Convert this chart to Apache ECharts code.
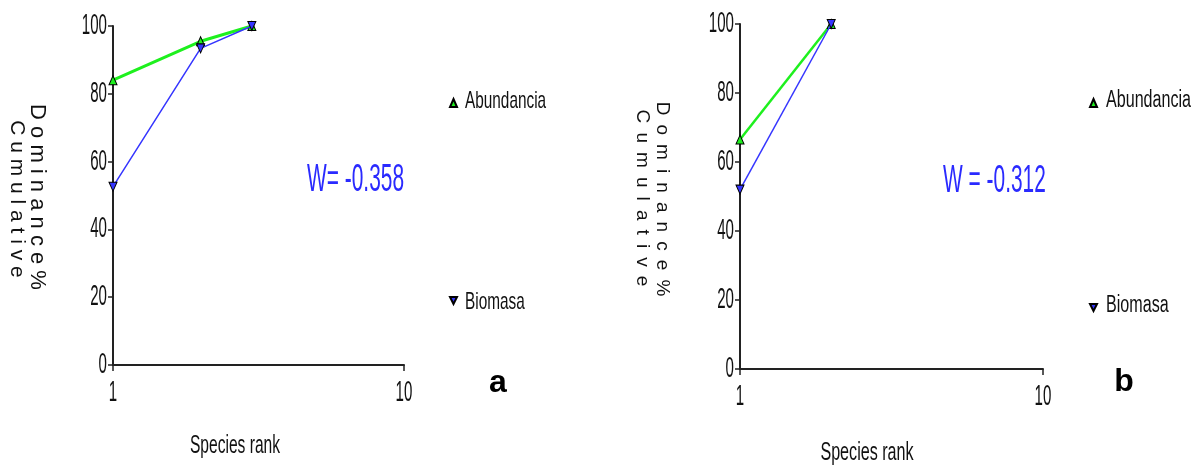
<!DOCTYPE html>
<html>
<head>
<meta charset="utf-8">
<script src="https://cdn.jsdelivr.net/npm/echarts@6/dist/echarts.min.js"></script>
<style>
  html, body { margin: 0; padding: 0; background: #fff; }
  #chart { width: 1201px; height: 470px; }
</style>
</head>
<body>
<div id="chart"></div>
<script>
// Cumulative dominance (ABC) curves, two sites
const rankTicks = [1, 10];
const yTicks = [0, 20, 40, 60, 80, 100];
const seriesNames = ['Abundancia', 'Biomasa'];

// Site a
const ranksA = [1, 2, 3];
const abundanciaA = [84, 95.5, 100];
const biomasaA = [52.6, 93.4, 100];
const wA = 'W= -0.358';

// Site b
const ranksB = [1, 2];
const abundanciaB = [66.5, 100];
const biomasaB = [52, 100];
const wB = 'W = -0.312';

const SANS = '"Liberation Sans", Arial, sans-serif';
const GREEN = '#1ef01e';
const BLUE = '#3535ff';
const INK = '#111';
const DOWN = 'path://M0,0L10,0L5,10Z';

function pairs(xs, ys) { return xs.map((x, i) => [x, ys[i]]); }

const grids = [
  { left: 113, top: 26, width: 291, height: 339 },
  { left: 740, top: 24, width: 303, height: 345 }
];

function xAxis(gi) {
  return {
    type: 'log', logBase: 10, gridIndex: gi,
    min: rankTicks[0], max: rankTicks[rankTicks.length - 1],
    axisLine: { show: true, lineStyle: { color: '#222', width: 2 } },
    axisTick: { show: true, length: 6, lineStyle: { color: '#222', width: 1.5 } },
    axisLabel: { show: false },
    splitLine: { show: false }, minorTick: { show: false }
  };
}
function yAxis(gi) {
  return {
    type: 'value', gridIndex: gi, min: yTicks[0], max: yTicks[yTicks.length - 1], interval: 20,
    axisLine: { show: true, lineStyle: { color: '#222', width: 2 } },
    axisTick: { show: true, length: 5, lineStyle: { color: '#222', width: 1.5 } },
    axisLabel: { show: false },
    splitLine: { show: false }
  };
}
function series(name, gi, xs, ys, color, width, down) {
  return {
    name, type: 'line', xAxisIndex: gi, yAxisIndex: gi,
    data: pairs(xs, ys),
    symbol: down ? DOWN : 'triangle', symbolSize: [8, 9],
    lineStyle: { color, width },
    itemStyle: { color, borderColor: '#000', borderWidth: 1 },
    z: down ? 3 : 2, animation: false
  };
}
function legend(name, left, top, down) {
  return {
    left, top, itemWidth: 7, itemHeight: 8,
    data: [{ name, icon: down ? DOWN : 'triangle' }],
    formatter: () => '',
    selectedMode: false
  };
}

// narrow text: regular sans squeezed horizontally
function narrowText(x, y, text, opt) {
  return {
    type: 'text', x, y, scaleX: opt.scale || 0.56, rotation: opt.rotation || 0,
    style: {
      text, x: 0, y: 0, align: opt.align || 'left', verticalAlign: opt.va || 'middle',
      fontFamily: SANS, fontSize: opt.size, fontWeight: opt.weight || 'normal', fill: opt.color || INK
    }
  };
}

const chart = echarts.init(document.getElementById('chart'), null, { renderer: 'canvas' });
chart.setOption({
  animation: false,
  grid: grids,
  xAxis: [xAxis(0), xAxis(1)],
  yAxis: [yAxis(0), yAxis(1)],
  legend: [
    legend(seriesNames[0], 444, 93, false),
    legend(seriesNames[1], 444, 291, true),
    legend(seriesNames[0], 1084, 93, false),
    legend(seriesNames[1], 1084, 298, true)
  ],
  series: [
    series(seriesNames[0], 0, ranksA, abundanciaA, GREEN, 3, false),
    series(seriesNames[1], 0, ranksA, biomasaA, BLUE, 1.5, true),
    series(seriesNames[0], 1, ranksB, abundanciaB, GREEN, 2.5, false),
    series(seriesNames[1], 1, ranksB, biomasaB, BLUE, 1.5, true)
  ]
});

// tick labels placed through each grid's own scales
const graphics = [];
[0, 1].forEach(gi => {
  yTicks.forEach(v => {
    const p = chart.convertToPixel({ gridIndex: gi }, [rankTicks[0], v]);
    graphics.push(narrowText(p[0] - 6, p[1], String(v), { size: 29, scale: 0.52, align: 'right' }));
  });
  rankTicks.forEach(r => {
    const p = chart.convertToPixel({ gridIndex: gi }, [r, 0]);
    graphics.push(narrowText(p[0], p[1] + 13, String(r), { size: 29, scale: 0.52, align: 'center', va: 'top' }));
  });
});

// axis titles
const yTitle = (x, y, text, size) => ({
  type: 'text', x, y, rotation: -Math.PI / 2,
  style: { text, x: 0, y: 0, align: 'center', verticalAlign: 'middle', fontFamily: SANS, fontSize: size, fill: INK }
});
graphics.push(
  yTitle(37, 197, 'D o m i n a n c e %', 22),
  yTitle(17, 199, 'C u m u l a t i v e', 21),
  yTitle(662, 199, 'D\u2009 o\u2009 m\u2009 i\u2009 n\u2009 a\u2009 n\u2009 c\u2009 e\u2009 %', 19),
  yTitle(642, 198, 'C\u2009 u\u2009 m\u2009 u\u2009 l\u2009 a\u2009 t\u2009 i\u2009 v\u2009 e', 19),
  narrowText(235, 446, 'Species rank', { size: 26, align: 'center', scale: 0.6 }),
  narrowText(867, 453, 'Species rank', { size: 26, align: 'center', scale: 0.62 })
);

// legend labels
graphics.push(
  narrowText(465, 101, seriesNames[0], { size: 24, scale: 0.64 }),
  narrowText(465, 302, seriesNames[1], { size: 24, scale: 0.64 }),
  narrowText(1106, 101, seriesNames[0], { size: 23, scale: 0.7 }),
  narrowText(1106, 306, seriesNames[1], { size: 23, scale: 0.7 })
);

// W statistic and panel tags
graphics.push(
  narrowText(307, 181, wA, { size: 38, scale: 0.55, color: '#2a2aff' }),
  narrowText(943, 182, wB, { size: 38, scale: 0.55, color: '#2a2aff' }),
  narrowText(498, 383, 'a', { size: 32, scale: 1, align: 'center', weight: 'bold', color: '#000' }),
  narrowText(1124, 382, 'b', { size: 32, scale: 1, align: 'center', weight: 'bold', color: '#000' })
);

chart.setOption({ graphic: graphics });
</script>
</body>
</html>
